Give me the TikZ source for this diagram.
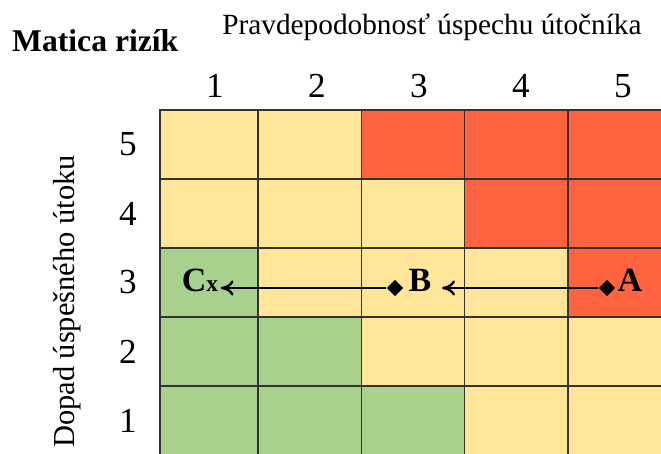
\documentclass[tikz,border=0pt]{standalone}
\usepackage{fontspec}
\setmainfont{Liberation Serif}
\usetikzlibrary{shapes.geometric,arrows.meta}
\definecolor{lowrisk}{HTML}{A9D18E}
\definecolor{midrisk}{HTML}{FFE699}
\definecolor{highrisk}{HTML}{FF633F}
\definecolor{gridline}{HTML}{333333}

\begin{document}
\begin{tikzpicture}[x=0.03cm, y=-0.03cm,
        cell/.style={shape=rectangle, draw=gridline, line width=1.3pt, inner sep=0pt, minimum height=2.07cm},
        numlabel/.style={font=\fontsize{30}{30}\selectfont, inner sep=0pt},
        axislabel/.style={font=\fontsize{25}{25}\selectfont, inner sep=0pt},
        marker/.style={shape=diamond, fill=black, inner sep=0pt, minimum size=0.5cm},
        riskpt/.style={font=\bfseries\fontsize{29}{29}\selectfont, inner sep=2pt},
        riskarrow/.style={-{To[length=11pt, width=13pt]}, line width=2pt}]
    \useasboundingbox (0, 0) rectangle (661, 454);
    \clip (0, 0) rectangle (661, 454);
    % risk cells, row by row from the top
    \foreach \r/\yc/\ca/\cb/\cc/\cd/\ce in {5/144.5/midrisk/midrisk/highrisk/highrisk/highrisk,
            4/213.5/midrisk/midrisk/midrisk/highrisk/highrisk,
            3/282.5/lowrisk/midrisk/midrisk/midrisk/highrisk,
            2/351.5/lowrisk/lowrisk/midrisk/midrisk/midrisk,
            1/420.5/lowrisk/lowrisk/lowrisk/midrisk/midrisk} {
        \foreach \c/\fillc in {1/\ca, 2/\cb, 3/\cc, 4/\cd, 5/\ce} {
            \pgfmathsetmacro\xl{\c==1 ? 160 : 155+103.2*(\c-1)}
            \pgfmathsetmacro\xr{155+103.2*\c}
            \node[name=cell-\r-\c, cell, fill=\fillc, minimum width=(\xr-\xl)*0.03cm] at ({(\xl+\xr)/2}, \yc) {};
        }
        \node[name=row-\r, numlabel] at (128, \yc) {\r};
    }
    \foreach \c in {1, ..., 5}
        \node[name=col-\c, numlabel] at ({215+102*(\c-1)}, 86) {\c};
    \node[name=title, font=\bfseries\fontsize{27}{27}\selectfont, inner sep=0pt, anchor=base west] at (12, 52) {Matica rizík};
    \node[name=xlabel, axislabel, anchor=base] at (432, 35) {Pravdepodobnosť úspechu útočníka};
    \node[name=ylabel, axislabel, font=\fontsize{26}{26}\selectfont, rotate=90, anchor=east] at (67, 155) {Dopad úspešného útoku};
    % moving the risk from A over B to C
    \node[name=ptA, marker] at (607, 288) {};
    \node[name=ptB, marker] at (395, 288) {};
    \node[name=labA, riskpt, anchor=base] at (630, 292) {A};
    \node[name=labB, riskpt, inner xsep=9pt, anchor=base] at (420, 292) {B};
    \node[name=labC, riskpt, anchor=base] at (200, 292) {C{\fontsize{20}{20}\selectfont x}};
    \draw[riskarrow] (ptA) -- (ptA -| labB.east);
    \draw[riskarrow] (ptB) -- (ptB -| labC.east);
\end{tikzpicture}
\end{document}
